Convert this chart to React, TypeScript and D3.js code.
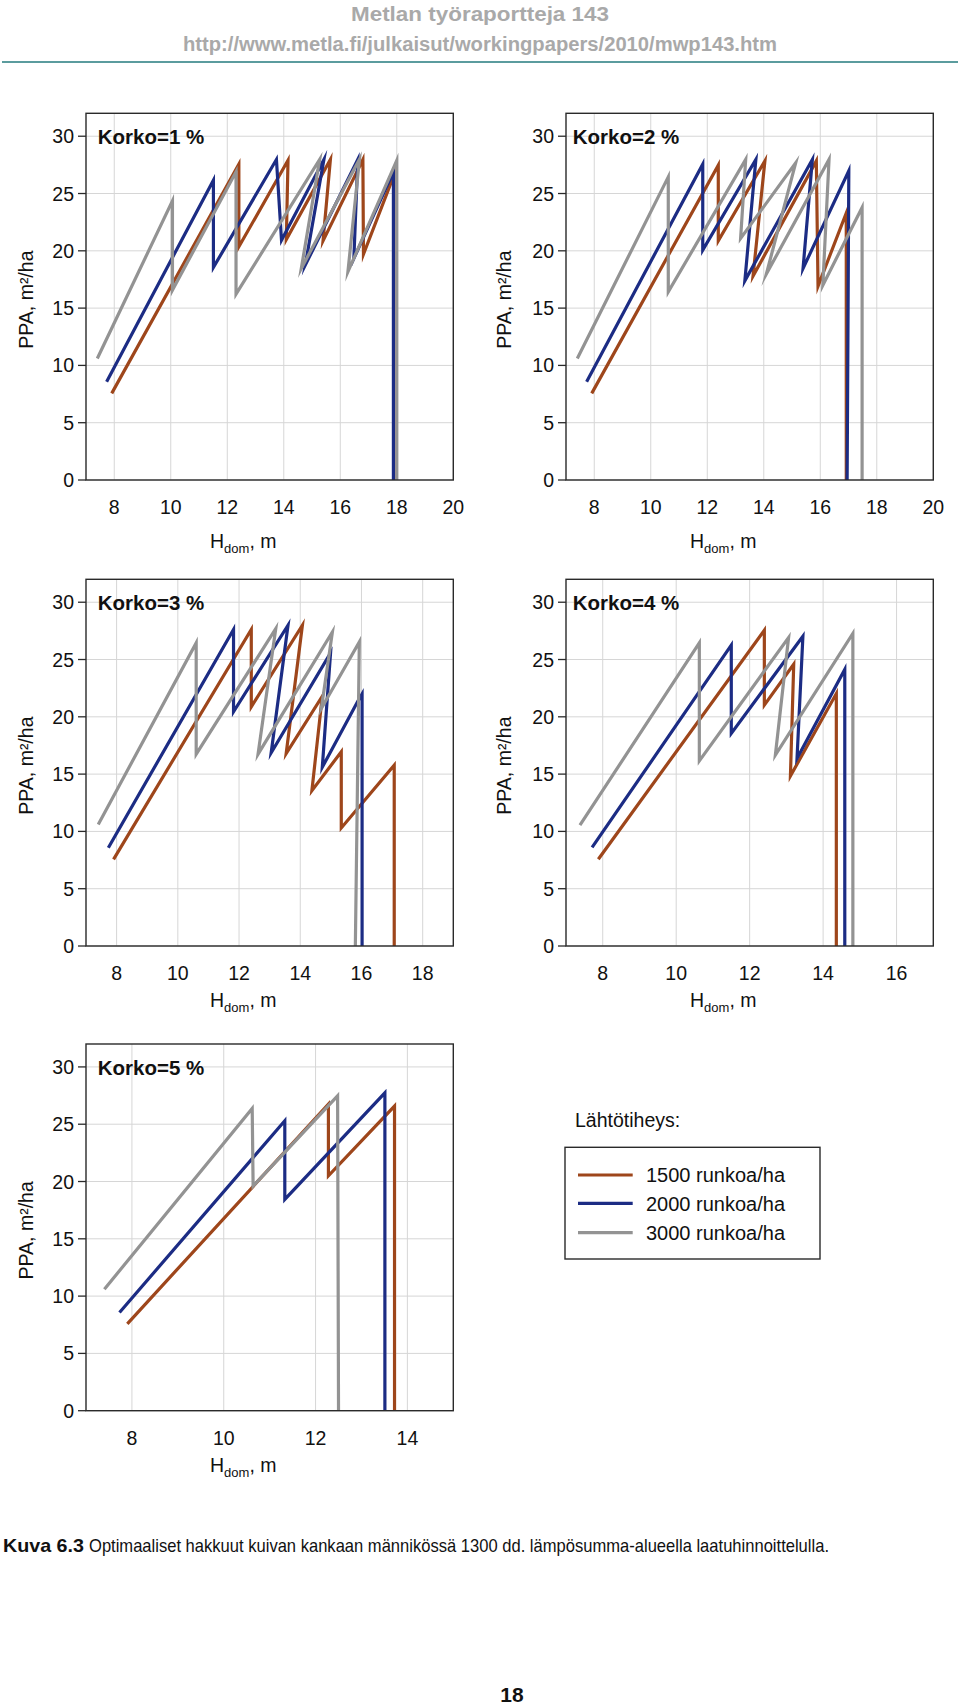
import React from "react";
import * as d3 from "d3";

// ---------- data (H_dom m, PPA m2/ha) ----------
const seriesNames = ["1500 runkoa/ha", "2000 runkoa/ha", "3000 runkoa/ha"];
const korkoLabels = ["Korko=1 %", "Korko=2 %", "Korko=3 %", "Korko=4 %", "Korko=5 %"];
const yTicks = [0, 5, 10, 15, 20, 25, 30];
const xTicks1 = [8, 10, 12, 14, 16, 18, 20];
const xTicks2 = [8, 10, 12, 14, 16, 18, 20];
const xTicks3 = [8, 10, 12, 14, 16, 18];
const xTicks4 = [8, 10, 12, 14, 16];
const xTicks5 = [8, 10, 12, 14];

const k1_1500: [number, number][] = [[7.91, 7.56], [12.41, 27.56], [12.41, 20.35], [14.15, 27.9], [14.09, 20.99], [15.65, 27.97], [15.39, 20.87], [16.8, 27.97], [16.82, 19.7], [17.9, 26.6], [17.9, 0]];
const k1_2000: [number, number][] = [[7.73, 8.58], [11.51, 26.16], [11.51, 18.55], [13.74, 27.97], [13.92, 20.93], [15.42, 27.97], [14.76, 18.75], [16.62, 27.97], [16.48, 19.33], [17.88, 26.9], [17.88, 0]];
const k1_3000: [number, number][] = [[7.4, 10.6], [10.06, 24.36], [10.06, 16.57], [12.31, 26.9], [12.31, 16.22], [15.27, 27.97], [14.62, 18.46], [16.68, 28.0], [16.27, 18.17], [18.0, 27.9], [18.0, 0]];

const k2_1500: [number, number][] = [[7.91, 7.56], [12.39, 27.47], [12.39, 20.87], [14.04, 27.85], [13.62, 17.79], [15.86, 27.85], [15.92, 16.92], [16.92, 23.3], [16.92, 0]];
const k2_2000: [number, number][] = [[7.73, 8.58], [11.84, 27.56], [11.84, 20.06], [13.72, 27.97], [13.33, 17.38], [15.72, 27.97], [15.39, 18.46], [17.01, 26.98], [16.95, 0]];
const k2_3000: [number, number][] = [[7.4, 10.6], [10.62, 26.45], [10.62, 16.42], [13.36, 27.97], [13.18, 21.08], [15.13, 27.67], [14.09, 17.97], [16.31, 27.97], [16.09, 17.0], [17.48, 23.78], [17.48, 0]];

const k3_1500: [number, number][] = [[7.9, 7.56], [12.4, 27.62], [12.4, 20.87], [14.07, 27.99], [13.54, 16.8], [14.72, 21.8], [14.38, 13.55], [15.34, 16.95], [15.34, 10.3], [17.07, 15.78], [17.07, 0]];
const k3_2000: [number, number][] = [[7.73, 8.58], [11.82, 27.62], [11.82, 20.44], [13.6, 27.99], [13.05, 16.86], [14.99, 25.58], [14.72, 15.6], [15.88, 21.35], [16.02, 22.0], [16.02, 0]];
const k3_3000: [number, number][] = [[7.4, 10.6], [10.6, 26.45], [10.6, 16.74], [13.2, 27.7], [12.62, 16.74], [15.05, 27.41], [14.69, 20.73], [15.93, 26.54], [15.8, 0]];

const k4_1500: [number, number][] = [[7.88, 7.57], [12.4, 27.56], [12.4, 21.02], [13.2, 24.59], [13.11, 14.83], [14.36, 22.03], [14.36, 0]];
const k4_2000: [number, number][] = [[7.71, 8.6], [11.5, 26.25], [11.5, 18.55], [13.45, 27.03], [13.29, 16.37], [14.59, 24.13], [14.59, 0]];
const k4_3000: [number, number][] = [[7.38, 10.54], [10.63, 26.45], [10.63, 16.16], [13.06, 26.92], [12.7, 16.66], [14.81, 27.27], [14.81, 0]];

const k5_1500: [number, number][] = [[7.9, 7.58], [12.28, 26.75], [12.28, 20.5], [13.72, 26.58], [13.72, 0]];
const k5_2000: [number, number][] = [[7.73, 8.57], [11.33, 25.3], [11.33, 18.44], [13.51, 27.74], [13.51, 0]];
const k5_3000: [number, number][] = [[7.4, 10.6], [10.62, 26.37], [10.64, 19.6], [12.48, 27.48], [12.5, 0]];

// ---------- styling / layout ----------
const COLORS = ["#9e461b", "#1c2c84", "#939393"];
const FONT = "'Liberation Sans', Arial, Helvetica, sans-serif";
const W = 367.3;
const H = 366.7;

const panels = [
  { left: 86, top: 113.3, xMax: 20, ticks: xTicks1, series: [k1_1500, k1_2000, k1_3000], xlabDy: 68, korkoDx: 11.7 },
  { left: 566, top: 113.3, xMax: 20, ticks: xTicks2, series: [k2_1500, k2_2000, k2_3000], xlabDy: 68, korkoDx: 6.7 },
  { left: 86, top: 579.3, xMax: 19, ticks: xTicks3, series: [k3_1500, k3_2000, k3_3000], xlabDy: 61, korkoDx: 11.7 },
  { left: 566, top: 579.3, xMax: 17, ticks: xTicks4, series: [k4_1500, k4_2000, k4_3000], xlabDy: 61, korkoDx: 6.7 },
  { left: 86, top: 1044, xMax: 15, ticks: xTicks5, series: [k5_1500, k5_2000, k5_3000], xlabDy: 61, korkoDx: 11.7 },
];

function Panel({ p, idx }: { p: any; idx: number }) {
  const x = d3.scaleLinear().domain([7, p.xMax]).range([p.left, p.left + W]);
  const y = d3.scaleLinear().domain([0, 32]).range([p.top + H, p.top]);
  const line = d3
    .line<[number, number]>()
    .x((d) => x(d[0]))
    .y((d) => y(d[1]));
  const bottom = p.top + H;
  const ylabX = idx % 2 === 0 ? p.left - 53 : p.left - 55;
  return (
    <g>
      <clipPath id={`clip${idx}`}>
        <rect x={p.left} y={p.top} width={W} height={H + 2} />
      </clipPath>
      {/* grid */}
      {p.ticks.map((t: number) => (
        <line key={"gx" + t} x1={x(t)} x2={x(t)} y1={p.top} y2={bottom} stroke="#d6d6d6" strokeWidth={1} />
      ))}
      {yTicks.map((t) => (
        <line key={"gy" + t} x1={p.left} x2={p.left + W} y1={y(t)} y2={y(t)} stroke="#d6d6d6" strokeWidth={1} />
      ))}
      {/* series */}
      <g clipPath={`url(#clip${idx})`}>
        {p.series.map((s: [number, number][], i: number) => (
          <path key={i} d={line(s) || ""} fill="none" stroke={COLORS[i]} strokeWidth={3.2} strokeLinejoin="miter" strokeMiterlimit={10} />
        ))}
      </g>
      {/* frame */}
      <rect x={p.left} y={p.top} width={W} height={H} fill="none" stroke="#2a2a2a" strokeWidth={1.4} />
      {/* y ticks */}
      {yTicks.map((t) => (
        <g key={"yt" + t}>
          <line x1={p.left - 8} x2={p.left} y1={y(t)} y2={y(t)} stroke="#2a2a2a" strokeWidth={1.3} />
          <text x={p.left - 12} y={y(t)} dy="0.36em" textAnchor="end" fontSize={19.5} fontFamily={FONT} fill="#111">
            {t}
          </text>
        </g>
      ))}
      {/* x tick labels */}
      {p.ticks.map((t: number) => (
        <text key={"xt" + t} x={x(t)} y={bottom + 34} textAnchor="middle" fontSize={19.5} fontFamily={FONT} fill="#111">
          {t}
        </text>
      ))}
      {/* axis labels */}
      <text x={p.left + 124} y={bottom + p.xlabDy} fontSize={19.5} fontFamily={FONT} fill="#111">
        H
        <tspan fontSize={13} dy={5}>dom</tspan>
        <tspan dy={-5}>, m</tspan>
      </text>
      <text
        transform={`translate(${ylabX},${p.top + H / 2 + 3}) rotate(-90)`}
        textAnchor="middle"
        fontSize={19.5}
        fontFamily={FONT}
        fill="#111"
      >
        PPA, m²/ha
      </text>
      <text x={p.left + p.korkoDx} y={p.top + 30.5} fontSize={20.5} fontWeight="bold" fontFamily={FONT} fill="#111">
        {korkoLabels[idx]}
      </text>
    </g>
  );
}

export default function App() {
  const legendY = [1175, 1203.3, 1232.7];
  return (
    <svg
      width={960}
      height={1706}
      viewBox="0 0 960 1706"
      style={{ position: "absolute", left: 0, top: 0, background: "#fff" }}
    >
      <rect x={0} y={0} width={960} height={1706} fill="#fff" />
      {/* header */}
      <text x={480} y={20.7} textAnchor="middle" fontSize={20} fontWeight="bold" fontFamily={FONT} fill="#a9a9a9" textLength={258} lengthAdjust="spacingAndGlyphs">
        Metlan työraportteja 143
      </text>
      <text x={480} y={50.7} textAnchor="middle" fontSize={20} fontWeight="bold" fontFamily={FONT} fill="#a9a9a9" textLength={594} lengthAdjust="spacingAndGlyphs">
        http://www.metla.fi/julkaisut/workingpapers/2010/mwp143.htm
      </text>
      <line x1={2} x2={958} y1={62} y2={62} stroke="#5b9c9e" strokeWidth={2} />

      {panels.map((p, i) => (
        <Panel key={i} p={p} idx={i} />
      ))}

      {/* legend */}
      <text x={575} y={1127.3} fontSize={19.5} fontFamily={FONT} fill="#111">
        Lähtötiheys:
      </text>
      <rect x={565} y={1147.3} width={255} height={111.7} fill="none" stroke="#2a2a2a" strokeWidth={1.4} />
      {seriesNames.map((n, i) => (
        <g key={n}>
          <line x1={578} x2={632.7} y1={legendY[i]} y2={legendY[i]} stroke={COLORS[i]} strokeWidth={3.2} />
          <text x={646} y={legendY[i]} dy="0.36em" fontSize={20} fontFamily={FONT} fill="#111">
            {n}
          </text>
        </g>
      ))}

      {/* caption */}
      <text x={3} y={1552} fontSize={19} fontWeight="bold" fontFamily={FONT} fill="#111" textLength={81} lengthAdjust="spacingAndGlyphs">
        Kuva 6.3
      </text>
      <text x={89} y={1552} fontSize={19} fontFamily={FONT} fill="#111" textLength={740} lengthAdjust="spacingAndGlyphs">
        Optimaaliset hakkuut kuivan kankaan männikössä 1300 dd. lämpösumma-alueella laatuhinnoittelulla.
      </text>
      <text x={512} y={1702} textAnchor="middle" fontSize={21} fontWeight="bold" fontFamily={FONT} fill="#111">
        18
      </text>
    </svg>
  );
}
